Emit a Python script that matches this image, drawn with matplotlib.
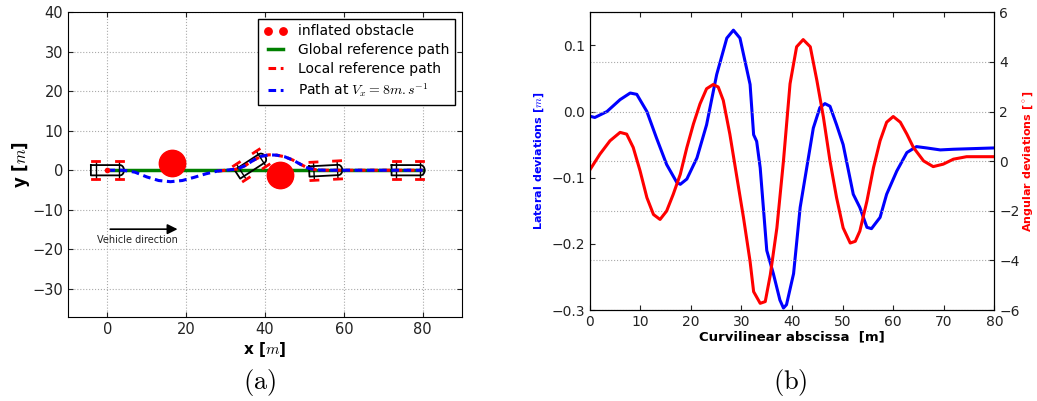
import numpy as np
import matplotlib
matplotlib.use('Agg')
import matplotlib.pyplot as plt

plt.rcParams['mathtext.fontset'] = 'cm'
plt.rcParams['font.family'] = 'DejaVu Sans'

# ---- (a) trajectory data ----
path_x = [0, 4, 7, 10, 13, 16, 19, 22, 25, 28, 31, 33, 35, 37, 39, 41, 43, 45, 47, 49, 51, 53, 55, 60, 70, 80]
path_y = [0, 0, -0.5, -1.7, -2.6, -2.9, -2.6, -1.8, -0.9, -0.2, 0.1, 0.3, 1.2, 2.5, 3.5, 3.9, 3.8, 3.4, 2.6, 1.5, 0.5, 0.1, 0, 0, 0, 0]
local_x = [28, 31, 33, 35, 37, 39, 41, 43, 45, 47, 49, 51, 53, 55, 60, 70, 80]
local_y = [-0.2, 0.1, 0.3, 1.2, 2.5, 3.5, 3.9, 3.8, 3.4, 2.6, 1.5, 0.5, 0.1, 0, 0, 0, 0]
global_x = [0, 80]
global_y = [0, 0]
obs_x = [16.4, 43.9]
obs_y = [1.8, -1.2]
car_x = [0, 36.5, 55.4, 76.3]
car_y = [0, 1.25, -0.1, 0]
car_heading = [0, 33, 3, 0]

# ---- (b) deviation data ----
lat_s = [0, 1, 3.4, 6, 8, 9.3, 11.3, 13.2, 15.2, 17.2, 17.9, 19.2, 21.2, 23.1, 25.1, 27.1, 28.4, 29.7,
         31.7, 32.4, 33.0, 33.7, 35.0, 36.3, 37.6, 38.3, 38.9, 40.3, 41.6, 42.9, 44.2, 45.5, 46.5, 47.5,
         48.8, 50.1, 52.1, 53.4, 54.8, 55.7, 57.4, 58.7, 60.7, 62.7, 64.6, 66.6, 69.3, 71.9, 80]
lat_dev = [-0.007, -0.009, 0.0, 0.018, 0.028, 0.026, 0.0, -0.04, -0.08, -0.107, -0.11, -0.102, -0.07, -0.02,
           0.056, 0.111, 0.123, 0.111, 0.041, -0.035, -0.045, -0.085, -0.21, -0.245, -0.285, -0.297, -0.292,
           -0.245, -0.145, -0.085, -0.025, 0.006, 0.012, 0.008, -0.02, -0.05, -0.125, -0.145, -0.175, -0.177,
           -0.16, -0.125, -0.09, -0.062, -0.053, -0.055, -0.058, -0.057, -0.055]
ang_s = [0, 2.0, 4.0, 6.0, 7.3, 8.6, 9.95, 11.3, 12.6, 13.9, 15.2, 16.5, 17.9, 19.2, 20.5, 21.8, 23.1, 24.4,
         25.4, 26.4, 27.7, 29.1, 30.4, 31.7, 32.4, 33.7, 34.7, 35.7, 37.0, 38.3, 39.6, 40.9, 42.2, 43.6, 44.9,
         46.2, 47.5, 48.8, 50.1, 51.5, 52.5, 53.4, 54.8, 56.1, 57.4, 58.7, 60.0, 61.4, 62.7, 64.0, 66.0, 67.9,
         69.9, 71.9, 74.5, 80]
ang_dev = [-0.36, 0.28, 0.82, 1.16, 1.09, 0.55, -0.39, -1.47, -2.15, -2.35, -2.01, -1.34, -0.53, 0.55, 1.5,
           2.31, 2.92, 3.09, 2.99, 2.45, 1.09, -0.66, -2.28, -4.04, -5.26, -5.73, -5.66, -4.58, -2.69, 0.01,
           3.12, 4.61, 4.9, 4.61, 3.26, 1.77, 0.01, -1.47, -2.69, -3.3, -3.23, -2.82, -1.61, -0.26, 0.82, 1.57,
           1.8, 1.57, 1.09, 0.55, 0.01, -0.22, -0.12, 0.08, 0.18, 0.18]


def draw_car(ax, cx, cy, heading):
    # body outline with rounded nose, in car frame
    t = np.linspace(np.pi / 2, -np.pi / 2, 15)
    bx = np.concatenate([[-4.2, 3.2], 3.2 + 1.0 * np.cos(t), [3.2, -4.2, -4.2]])
    by = np.concatenate([[1.3, 1.3], 1.3 * np.sin(t), [-1.3, -1.3, 1.3]])
    th = np.radians(heading)
    c, s = np.cos(th), np.sin(th)

    def tr(x, y):
        x = np.asarray(x, float)
        y = np.asarray(y, float)
        return cx + c * x - s * y, cy + s * x + c * y

    ax.plot(*tr(bx, by), color='k', lw=1.3, zorder=4)
    for wx in (-3.0, 3.0):
        ax.plot(*tr([wx, wx], [-2.3, 2.3]), color='k', lw=1.0, zorder=4)
        for wy in (-2.3, 2.3):
            ax.plot(*tr([wx - 0.9, wx + 0.9], [wy, wy]), color='red', lw=2.0, zorder=4)


fig = plt.figure(figsize=(10.37, 4.01), dpi=100)
ax = fig.add_axes([0.0656, 0.2095, 0.380, 0.7606])

ax.plot(obs_x, obs_y, 'o', color='red', mec='red', ms=19, label='inflated obstacle', zorder=3)
ax.plot(global_x, global_y, '-', color='green', lw=2.5, label='Global reference path', zorder=2)
ax.plot(local_x, local_y, '--', color='red', lw=2.2, dashes=(2.5, 1.5), label='Local reference path', zorder=5)
ax.plot(path_x, path_y, '--', color='blue', lw=2.2, dashes=(2.5, 1.5), dash_capstyle='butt',
        label=r'Path at $V_x=8m.s^{-1}$', zorder=6)
ax.plot(0, 0, 'o', color='red', ms=3, zorder=6)
for x, y, h in zip(car_x, car_y, car_heading):
    draw_car(ax, x, y, h)

ax.annotate('', xy=(18.5, -14.9), xytext=(0, -14.9),
            arrowprops=dict(arrowstyle='-|>', color='k', lw=1.2, mutation_scale=15))
ax.text(7.7, -17.6, 'Vehicle direction', fontsize=7, ha='center', va='center', color='#222222')

ax.set_xlim(-10, 90)
ax.set_ylim(-37.1, 40)
ax.set_xticks([0, 20, 40, 60, 80])
ax.set_yticks([-30, -20, -10, 0, 10, 20, 30, 40])
ax.grid(True, linestyle=':', color='#aaaaaa', lw=0.8)
ax.tick_params(direction='in', top=True, right=True, labelsize=10.5, colors='#222222')
ax.set_xlabel(r'x [$m$]', fontsize=11, fontweight='bold', labelpad=2)
ax.set_ylabel(r'y [$m$]', fontsize=12, fontweight='bold', labelpad=0)
leg = ax.legend(loc='upper right', fontsize=10, numpoints=2, markerscale=0.28,
                handlelength=1.7, fancybox=False, framealpha=1, borderpad=0.4, labelspacing=0.35)
leg.get_frame().set_edgecolor('black')

# ---- (b) ----
bx1 = fig.add_axes([0.5687, 0.2269, 0.3902, 0.7424])
bx1.plot(lat_s, lat_dev, color='blue', lw=2.2)
bx1.set_xlim(0, 80)
bx1.set_ylim(-0.3, 0.15)
bx1.set_yticks([-0.3, -0.2, -0.1, 0.0, 0.1])
bx1.set_xticks(range(0, 81, 10))
bx1.tick_params(direction='in', top=True, labelsize=10, colors='#222222')
bx1.set_xlabel('Curvilinear abscissa  [m]', fontsize=9.5, fontweight='bold', labelpad=1)
bx1.set_ylabel(r'Lateral deviations [$m$]', fontsize=8, fontweight='bold', color='blue', labelpad=4)

bx2 = bx1.twinx()
bx2.plot(ang_s, ang_dev, color='red', lw=2.2)
bx2.set_ylim(-6, 6)
bx2.set_yticks([-6, -4, -2, 0, 2, 4, 6])
bx2.grid(True, axis='y', linestyle=':', color='#aaaaaa', lw=0.8)
bx2.tick_params(direction='in', labelsize=10, colors='#222222')
bx2.set_ylabel(r'Angular deviations [$^\circ$]', fontsize=8, fontweight='bold', color='red', labelpad=1)

fig.text(0.2507, 0.045, r'$\mathrm{(a)}$', fontsize=19, ha='center', va='center')
fig.text(0.762, 0.045, r'$\mathrm{(b)}$', fontsize=19, ha='center', va='center')

fig.savefig('out.png', dpi=100)
